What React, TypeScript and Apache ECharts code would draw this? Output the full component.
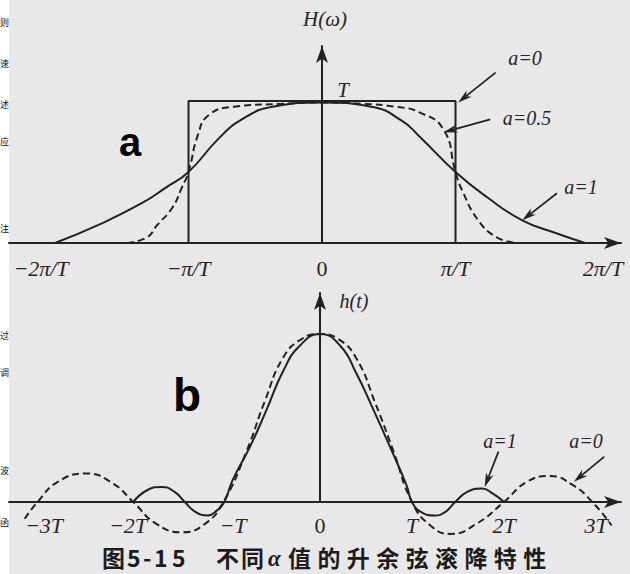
import React, { useEffect, useRef } from "react";
import * as echarts from "echarts";

// ---------- Panel a : H(ω), ω in units of π/T, H in units of T ----------
const omegaTicks = [-2, -1, 0, 1, 2];
const omegaTickLabels = ["−2π/T", "−π/T", "0", "π/T", "2π/T"];

const alpha0Omega = [-1, -1, 1, 1];
const alpha0H = [0, 1, 1, 0];

const alpha05Omega = [-1.46, -1.31, -1.24, -1.12, -1.05, -1, -0.93, -0.85, -0.66, -0.3, 0, 0.3, 0.55, 0.73, 0.91, 1, 1.05, 1.17, 1.31, 1.46];
const alpha05H = [0, 0.04, 0.12, 0.25, 0.39, 0.5, 0.76, 0.9, 0.96, 0.98, 0.99, 0.98, 0.96, 0.92, 0.8, 0.5, 0.37, 0.16, 0.04, 0];

const alpha1Omega = [-2, -1.67, -1.35, -1.17, -1, -0.78, -0.6, -0.37, 0, 0.37, 0.6, 0.73, 1, 1.24, 1.5, 1.75, 1.97];
const alpha1H = [0, 0.13, 0.28, 0.39, 0.5, 0.73, 0.87, 0.96, 0.99, 0.96, 0.86, 0.75, 0.5, 0.32, 0.16, 0.07, 0];

// ---------- Panel b : h(t), t in units of T ----------
const timeTicks = [-3, -2, -1, 0, 1, 2, 3];
const timeTickLabels = ["−3T", "−2T", "−T", "0", "T", "2T", "3T"];

const alpha0T = [-3.21, -3.07, -2.85, -2.54, -2.25, -2.03, -1.78, -1.5, -1.25, -1.05, -0.8, -0.6, -0.4, -0.2, 0, 0.2, 0.4, 0.6, 0.8, 1.0, 1.2, 1.42, 1.7, 2.0, 2.25, 2.5, 2.75, 2.96, 3.17];
const alpha0h = [-0.1, 0, 0.12, 0.17, 0.11, 0, -0.13, -0.18, -0.13, 0, 0.3, 0.6, 0.86, 0.97, 1.0, 0.97, 0.85, 0.59, 0.3, 0, -0.14, -0.19, -0.13, 0, 0.12, 0.155, 0.1, 0, -0.14];

const alpha1T = [-2.03, -1.88, -1.72, -1.58, -1.47, -1.35, -1.22, -1.12, -1.04, -0.95, -0.76, -0.58, -0.4, -0.22, 0, 0.22, 0.4, 0.58, 0.76, 0.94, 1.0, 1.1, 1.25, 1.36, 1.47, 1.6, 1.76, 1.88, 2.0];
const alpha1h = [0, 0.07, 0.09, 0.06, 0, -0.06, -0.08, -0.05, 0, 0.13, 0.33, 0.55, 0.78, 0.93, 1.0, 0.93, 0.76, 0.55, 0.33, 0.1, 0, -0.06, -0.08, -0.06, 0, 0.06, 0.08, 0.05, 0];

// annotation arrows: [fromX, fromY, toX, toY] in data units
const arrowsA = [
  [1.3, 1.2, 1.02, 0.99],
  [1.26, 0.87, 0.91, 0.78],
  [1.76, 0.35, 1.5, 0.16],
];
const arrowsB = [
  [1.94, 0.3, 1.79, 0.09],
  [3.09, 0.27, 2.76, 0.12],
];

const sideChars = ["则", "速", "述", "应", "注", "过", "调", "波", "函"];
const sideCharY = [22, 63, 104, 141, 228, 335, 372, 470, 522];

const INK = "#222222";
const zip = (xs: number[], ys: number[]) => xs.map((x, i) => [x, ys[i]]);

const serifItalic = {
  fontFamily: "'Liberation Serif', 'DejaVu Serif', serif",
  fontStyle: "italic",
  color: "#262626",
};

function makeRich(size: number) {
  const base = { ...serifItalic, fontSize: size };
  return {
    c: { ...base },
    z: { ...base, fontStyle: "normal" },
    l: { ...base, padding: [0, 28, 0, 0] },
    l2: { ...base, padding: [0, 16, 0, 0] },
    r: { ...base, padding: [0, 0, 0, 28] },
    r1: { ...base, padding: [0, 0, 0, 10] },
  };
}

function arrowRender(params: any, api: any) {
  const a = api.coord([api.value(0), api.value(1)]);
  const b = api.coord([api.value(2), api.value(3)]);
  const dx = b[0] - a[0];
  const dy = b[1] - a[1];
  const len = Math.hypot(dx, dy) || 1;
  const ux = dx / len;
  const uy = dy / len;
  const L = 14;
  const W = 4;
  const base = [b[0] - ux * L, b[1] - uy * L];
  const notch = [b[0] - ux * L * 0.72, b[1] - uy * L * 0.72];
  return {
    type: "group",
    children: [
      {
        type: "line",
        shape: { x1: a[0], y1: a[1], x2: notch[0], y2: notch[1] },
        style: { stroke: INK, lineWidth: 1.8 },
      },
      {
        type: "polygon",
        shape: {
          points: [
            [b[0], b[1]],
            [base[0] - uy * W, base[1] + ux * W],
            notch,
            [base[0] + uy * W, base[1] - ux * W],
          ],
        },
        style: { fill: INK },
      },
    ],
  };
}

const axisLineStyle = { color: INK, width: 2 };

export default function App() {
  const ref = useRef<HTMLDivElement>(null);

  useEffect(() => {
    if (!ref.current) return;
    const chart = echarts.init(ref.current, null, { renderer: "svg", width: 630, height: 574 });

    const labelText = (size: number) => ({
      ...serifItalic,
      fontSize: size,
    });

    const topLabelKey = ["l", "c", "z", "c", "r"];
    const botLabelKey = ["c", "l2", "r1", "z", "c", "c", "c"];

    const captionLeft = [
      { t: "图", x: 102 },
      { t: "5", x: 127 },
      { t: "-", x: 143 },
      { t: "1", x: 154 },
      { t: "5", x: 172 },
      { t: "不", x: 216 },
      { t: "同", x: 241 },
    ];
    const captionTail = "值的升余弦滚降特性".split("");
    const capY = 557;

    const graphics: any[] = [];
    sideChars.forEach((ch, i) => {
      graphics.push({
        type: "text",
        x: 0,
        y: sideCharY[i],
        style: {
          text: ch,
          fontSize: 9,
          fontFamily: "'Noto Sans CJK SC', sans-serif",
          fill: "#111",
          align: "left",
          verticalAlign: "middle",
        },
      });
    });
    const txt = (text: string, x: number, y: number, size: number, extra: any = {}) => ({
      type: "text",
      x,
      y,
      style: {
        text,
        fontSize: size,
        fontFamily: "'Liberation Serif', serif",
        fontStyle: "italic",
        fill: "#262626",
        align: "center",
        verticalAlign: "middle",
        ...extra,
      },
    });
    graphics.push(txt("H(ω)", 325, 19, 21));
    graphics.push(txt("T", 343, 90, 21));
    graphics.push(txt("h(t)", 354, 301, 20));
    graphics.push(txt("a=0", 525, 58, 20));
    graphics.push(txt("a=0.5", 527, 118, 20));
    graphics.push(txt("a=1", 581, 187, 20));
    graphics.push(txt("a=1", 500, 441, 20));
    graphics.push(txt("a=0", 586, 441, 20));
    graphics.push(
      txt("a", 130, 142, 40, {
        fontFamily: "'Liberation Sans', Arial, sans-serif",
        fontStyle: "normal",
        fontWeight: "bold",
        fill: "#000",
      })
    );
    graphics.push(
      txt("b", 187, 395, 46, {
        fontFamily: "'Liberation Sans', Arial, sans-serif",
        fontStyle: "normal",
        fontWeight: "bold",
        fill: "#000",
      })
    );
    const capStyle = {
      fontSize: 23,
      fontFamily: "'Noto Sans CJK SC', sans-serif",
      fontWeight: "bold",
      fill: "#1c1c1c",
      align: "left",
      verticalAlign: "middle",
    };
    captionLeft.forEach((c) => {
      graphics.push({ type: "text", x: c.x, y: capY, style: { ...capStyle, text: c.t } });
    });
    graphics.push({
      type: "text",
      x: 268,
      y: capY + 1,
      style: {
        ...capStyle,
        text: "α",
        fontFamily: "'Liberation Serif', serif",
        fontStyle: "italic",
      },
    });
    captionTail.forEach((ch, i) => {
      graphics.push({ type: "text", x: 288 + i * 29.4, y: capY, style: { ...capStyle, text: ch } });
    });

    const curve = {
      type: "line",
      symbol: "none",
      smooth: 0.5,
      clip: false,
      silent: true,
    };
    const dashed = [7, 4];

    const option: any = {
      animation: false,
      backgroundColor: "transparent",
      grid: [
        { left: 9, right: 9, top: 46, height: 197, containLabel: false },
        { left: 9, right: 9, top: 293, height: 209, containLabel: false },
      ],
      xAxis: [
        {
          type: "value",
          gridIndex: 0,
          min: (9 - 322) / 133.5,
          max: (621 - 322) / 133.5,
          splitLine: { show: false },
          axisTick: { show: false },
          axisLine: { onZero: false, lineStyle: axisLineStyle, symbol: ["none", "arrow"], symbolSize: [9, 17] },
          axisLabel: {
            customValues: omegaTicks,
            margin: 14,
            formatter: (v: number) => {
              const i = omegaTicks.indexOf(v);
              return i < 0 ? "" : `{${topLabelKey[i]}|${omegaTickLabels[i]}}`;
            },
            rich: makeRich(22),
            ...labelText(22),
          },
        },
        {
          type: "value",
          gridIndex: 1,
          min: (9 - 320) / 92,
          max: (621 - 320) / 92,
          splitLine: { show: false },
          axisTick: { show: false },
          axisLine: { onZero: false, lineStyle: axisLineStyle, symbol: ["none", "arrow"], symbolSize: [9, 17] },
          axisLabel: {
            customValues: timeTicks,
            margin: 12,
            formatter: (v: number) => {
              const i = timeTicks.indexOf(v);
              return i < 0 ? "" : `{${botLabelKey[i]}|${timeTickLabels[i]}}`;
            },
            rich: makeRich(22),
            ...labelText(22),
          },
        },
      ],
      yAxis: [
        {
          type: "value",
          gridIndex: 0,
          min: 0,
          max: (243 - 46) / 142,
          splitLine: { show: false },
          axisTick: { show: false },
          axisLabel: { show: false },
          axisLine: { onZero: true, lineStyle: axisLineStyle, symbol: ["none", "arrow"], symbolSize: [9, 17] },
        },
        {
          type: "value",
          gridIndex: 1,
          min: 0,
          max: (502 - 293) / 168,
          splitLine: { show: false },
          axisTick: { show: false },
          axisLabel: { show: false },
          axisLine: { onZero: true, lineStyle: axisLineStyle, symbol: ["none", "arrow"], symbolSize: [9, 17] },
        },
      ],
      series: [
        {
          type: "line",
          name: "a=0",
          xAxisIndex: 0,
          yAxisIndex: 0,
          data: zip(alpha0Omega, alpha0H),
          symbol: "none",
          clip: false,
          silent: true,
          lineStyle: { color: INK, width: 2 },
        },
        {
          ...curve,
          name: "a=0.5",
          xAxisIndex: 0,
          yAxisIndex: 0,
          data: zip(alpha05Omega, alpha05H),
          lineStyle: { color: INK, width: 2, type: dashed },
        },
        {
          ...curve,
          name: "a=1",
          xAxisIndex: 0,
          yAxisIndex: 0,
          data: zip(alpha1Omega, alpha1H),
          lineStyle: { color: INK, width: 2 },
        },
        {
          type: "custom",
          xAxisIndex: 0,
          yAxisIndex: 0,
          data: arrowsA,
          encode: { x: [0, 2], y: [1, 3] },
          renderItem: arrowRender,
          clip: false,
          silent: true,
        },
        {
          ...curve,
          name: "h a=0",
          xAxisIndex: 1,
          yAxisIndex: 1,
          data: zip(alpha0T, alpha0h),
          lineStyle: { color: INK, width: 2, type: dashed },
        },
        {
          ...curve,
          name: "h a=1",
          xAxisIndex: 1,
          yAxisIndex: 1,
          data: zip(alpha1T, alpha1h),
          lineStyle: { color: INK, width: 2 },
        },
        {
          type: "custom",
          xAxisIndex: 1,
          yAxisIndex: 1,
          data: arrowsB,
          encode: { x: [0, 2], y: [1, 3] },
          renderItem: arrowRender,
          clip: false,
          silent: true,
        },
      ],
      graphic: graphics,
    };

    chart.setOption(option);
    return () => chart.dispose();
  }, []);

  return (
    <div
      ref={ref}
      style={{
        position: "fixed",
        left: 0,
        top: 0,
        width: 630,
        height: 574,
        background: "linear-gradient(to right, #ffffff 0px, #ffffff 9px, #e8e8e8 9px, #e8e8e8 100%)",
      }}
    />
  );
}
